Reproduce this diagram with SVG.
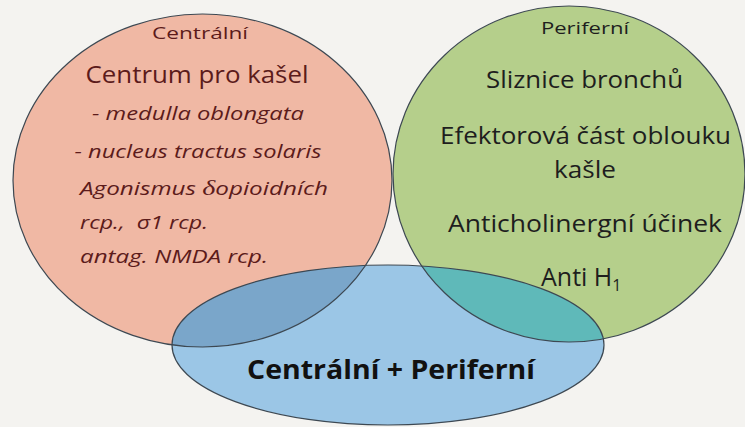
<svg xmlns="http://www.w3.org/2000/svg" width="745" height="427" viewBox="0 0 745 427">
<style>
.o{fill:none;stroke:#3d4852;stroke-width:1.2}
.r{font-family:"Open Sans","Liberation Sans",sans-serif;fill:#5c1b1b}
.g{font-family:"Open Sans","Liberation Sans",sans-serif;fill:#1e1e1e}
.i{font-style:italic}
</style>
<defs>
<clipPath id="cb"><ellipse cx="388" cy="345" rx="216" ry="80"/></clipPath>
</defs>
<rect width="745" height="427" fill="#f4f3f0"/>
<g id="central">
<ellipse cx="202.5" cy="180.5" rx="189.5" ry="166.5" fill="#f0b8a4"/>
</g>
<g id="peripheral">
<ellipse cx="569" cy="174" rx="176" ry="168" fill="#b5cf8b"/>
</g>
<g id="both">
<ellipse cx="388" cy="345" rx="216" ry="80" fill="#9bc6e6"/>
<g clip-path="url(#cb)">
<ellipse cx="202.5" cy="180.5" rx="189.5" ry="166.5" fill="#7aa6ca"/>
<ellipse cx="569" cy="174" rx="176" ry="168" fill="#5fb9b9"/>
</g>
</g>
<g id="outlines">
<ellipse class="o" cx="202.5" cy="180.5" rx="189.5" ry="166.5"/>
<ellipse class="o" cx="569" cy="174" rx="176" ry="168"/>
<ellipse class="o" cx="388" cy="345" rx="216" ry="80"/>
</g>
<g id="central-text" text-anchor="middle">
<text class="r" x="200" y="39" font-size="16" textLength="96" lengthAdjust="spacingAndGlyphs">Centrální</text>
<text class="r" x="197" y="83" font-size="24" textLength="223" lengthAdjust="spacingAndGlyphs">Centrum pro kašel</text>
<text class="r i" x="198" y="120" font-size="19" textLength="212" lengthAdjust="spacingAndGlyphs">- medulla oblongata</text>
<text class="r i" x="198" y="158" font-size="19" textLength="247" lengthAdjust="spacingAndGlyphs">- nucleus tractus solaris</text>
<text class="r i" x="204" y="195" font-size="19" textLength="248" lengthAdjust="spacingAndGlyphs">Agonismus <tspan font-family="Liberation Serif,serif" font-size="22">δ</tspan>opioidních</text>
<text class="r i" x="144" y="229" font-size="19" textLength="128" lengthAdjust="spacingAndGlyphs">rcp., &#160;σ1 rcp.</text>
<text class="r i" x="174" y="263" font-size="19" textLength="188" lengthAdjust="spacingAndGlyphs">antag. NMDA rcp.</text>
</g>
<g id="peripheral-text" text-anchor="middle">
<text class="g" x="585" y="34" font-size="16" textLength="88" lengthAdjust="spacingAndGlyphs">Periferní</text>
<text class="g" x="584.5" y="88" font-size="23" textLength="197" lengthAdjust="spacingAndGlyphs">Sliznice bronchů</text>
<text class="g" x="585.5" y="144" font-size="23" textLength="291" lengthAdjust="spacingAndGlyphs">Efektorová část oblouku</text>
<text class="g" x="585" y="178" font-size="23" textLength="62" lengthAdjust="spacingAndGlyphs">kašle</text>
<text class="g" x="585" y="232" font-size="23" textLength="274" lengthAdjust="spacingAndGlyphs">Anticholinergní účinek</text>
<text class="g" x="541" y="286" font-size="25" text-anchor="start">Anti H<tspan font-size="16" dy="5">1</tspan></text>
</g>
<g id="both-text">
<text x="391" y="379" font-family="Open Sans,Liberation Sans,sans-serif" font-weight="bold" font-size="27" fill="#111" text-anchor="middle" textLength="288" lengthAdjust="spacingAndGlyphs">Centrální + Periferní</text>
</g>
</svg>
